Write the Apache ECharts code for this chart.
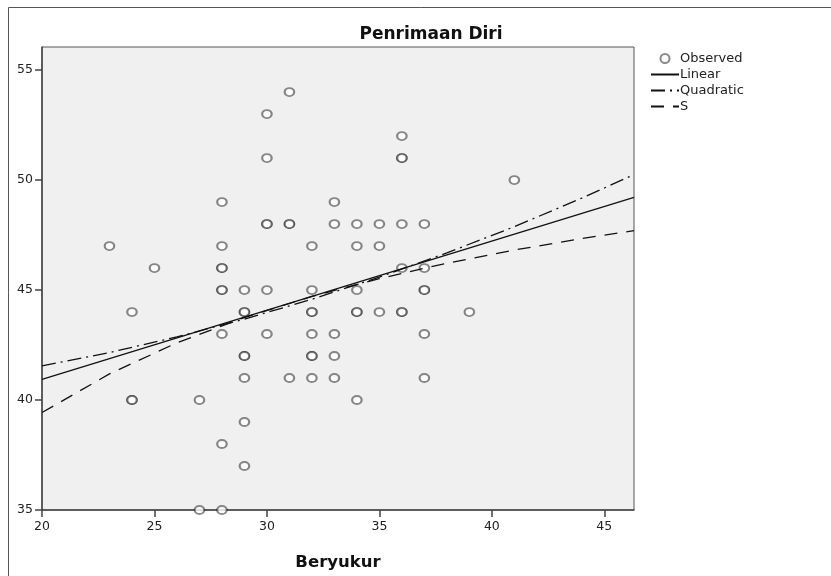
<!DOCTYPE html>
<html>
<head>
<meta charset="utf-8">
<script src="https://cdn.jsdelivr.net/npm/echarts@6/dist/echarts.min.js"></script>
<style>
  html, body { margin: 0; padding: 0; background: #fff; }
  #chart { width: 831px; height: 576px; }
</style>
</head>
<body>
<div id="chart"></div>
<script>
// observed points (Beryukur, Penrimaan Diri); repeated pairs are real duplicates
var obsX = [23, 24, 24, 24, 25, 27, 27, 28, 28, 28, 28, 28, 28, 28, 28, 28,
            29, 29, 29, 29, 29, 29, 29, 29, 30, 30, 30, 30, 30, 30, 31, 31, 31, 31,
            32, 32, 32, 32, 32, 32, 32, 32, 33, 33, 33, 33, 33, 34, 34, 34, 34, 34, 34,
            35, 35, 35, 36, 36, 36, 36, 36, 36, 36, 37, 37, 37, 37, 37, 37, 39, 41];
var obsY = [47, 44, 40, 40, 46, 40, 35, 49, 47, 46, 46, 45, 45, 43, 38, 35,
            45, 44, 44, 42, 42, 41, 39, 37, 53, 51, 48, 48, 45, 43, 54, 48, 48, 41,
            47, 45, 44, 44, 43, 42, 42, 41, 49, 48, 43, 42, 41, 48, 47, 45, 44, 44, 40,
            48, 47, 44, 52, 51, 51, 48, 46, 44, 44, 48, 46, 45, 45, 43, 41, 44, 50];

// fitted curves
var linX = [20, 46.32];
var linY = [40.94, 49.21];
var fitX = [20, 23, 26, 29, 32, 35, 38, 41, 44, 46.32];
var quadY = [41.55, 42.16, 42.87, 43.68, 44.58, 45.59, 46.69, 47.88, 49.18, 50.25];
var sY = [39.43, 41.19, 42.60, 43.75, 44.71, 45.52, 46.22, 46.82, 47.34, 47.70];

var xTicks = [20, 25, 30, 35, 40, 45];
var yTicks = [35, 40, 45, 50, 55];

function pairs(xs, ys) {
    return xs.map(function(x, i) { return [x, ys[i]]; });
}

var font = 'DejaVu Sans';
// line legend entries: hide the dot that ECharts puts on the line icon
var noDot = { color: 'rgba(0,0,0,0)', borderWidth: 0 };

var chart = echarts.init(document.getElementById('chart'));
chart.setOption({
    animation: false,
    backgroundColor: '#fff',
    title: {
        text: 'Penrimaan Diri',
        left: 426,
        top: 21,
        textAlign: 'center',
        textStyle: { fontFamily: font, fontSize: 17, fontWeight: 'bold', color: '#111' }
    },
    legend: {
        orient: 'vertical',
        left: 645,
        top: 47,
        itemWidth: 28,
        itemHeight: 9,
        itemGap: 3,
        textStyle: { fontFamily: font, fontSize: 13, lineHeight: 12.5, color: '#222', padding: [0, 0, 0, -4] },
        data: [
            { name: 'Observed', icon: 'emptyCircle' },
            { name: 'Linear', itemStyle: noDot },
            { name: 'Quadratic', itemStyle: noDot },
            { name: 'S', itemStyle: noDot }
        ]
    },
    grid: {
        left: 42,
        top: 47,
        right: 197,
        bottom: 65,
        show: true,
        backgroundColor: '#f0f0f0',
        borderColor: '#555',
        borderWidth: 1
    },
    graphic: [{
        type: 'rect',
        shape: { x: 8.5, y: 7.5, width: 900, height: 700 },
        style: { fill: null, stroke: '#555', lineWidth: 1 },
        silent: true
    }],
    xAxis: {
        type: 'value',
        min: 20,
        max: 46.32,
        interval: 5,
        name: 'Beryukur',
        nameLocation: 'middle',
        nameGap: 44,
        nameTextStyle: { fontFamily: font, fontSize: 16.5, fontWeight: 'bold', color: '#111' },
        axisLine: { show: true, lineStyle: { color: '#444', width: 1.5 } },
        axisTick: { show: true, length: 7, lineStyle: { color: '#444', width: 1.5 } },
        axisLabel: {
            fontFamily: font, fontSize: 12.5, color: '#222', margin: 10,
            showMaxLabel: false,
            formatter: function(v) { return xTicks.indexOf(v) >= 0 ? String(v) : ''; }
        },
        splitLine: { show: false }
    },
    yAxis: {
        type: 'value',
        min: 35,
        max: 56.05,
        interval: 5,
        axisLine: { show: true, lineStyle: { color: '#444', width: 1.5 } },
        axisTick: { show: true, length: 7, lineStyle: { color: '#444', width: 1.5 } },
        axisLabel: {
            fontFamily: font, fontSize: 12.5, color: '#222', margin: 9,
            showMaxLabel: false,
            formatter: function(v) { return yTicks.indexOf(v) >= 0 ? String(v) : ''; }
        },
        splitLine: { show: false }
    },
    series: [
        {
            name: 'Observed',
            type: 'scatter',
            symbol: 'emptyCircle',
            symbolSize: [9.5, 8],
            itemStyle: { color: 'rgba(30,30,30,0.65)', borderColor: 'rgba(30,30,30,0.65)', borderWidth: 1.5 },
            data: pairs(obsX, obsY),
            z: 3
        },
        {
            name: 'Linear',
            type: 'line',
            symbol: 'none',
            color: '#111',
            lineStyle: { color: '#111', width: 1.3 },
            data: pairs(linX, linY),
            z: 4
        },
        {
            name: 'Quadratic',
            type: 'line',
            symbol: 'none',
            color: '#111',
            lineStyle: { color: '#111', width: 1.3, type: [14, 5, 2, 5] },
            data: pairs(fitX, quadY),
            z: 4
        },
        {
            name: 'S',
            type: 'line',
            symbol: 'none',
            color: '#111',
            lineStyle: { color: '#111', width: 1.3, type: [13, 9] },
            data: pairs(fitX, sY),
            z: 4
        }
    ]
});
</script>
</body>
</html>
